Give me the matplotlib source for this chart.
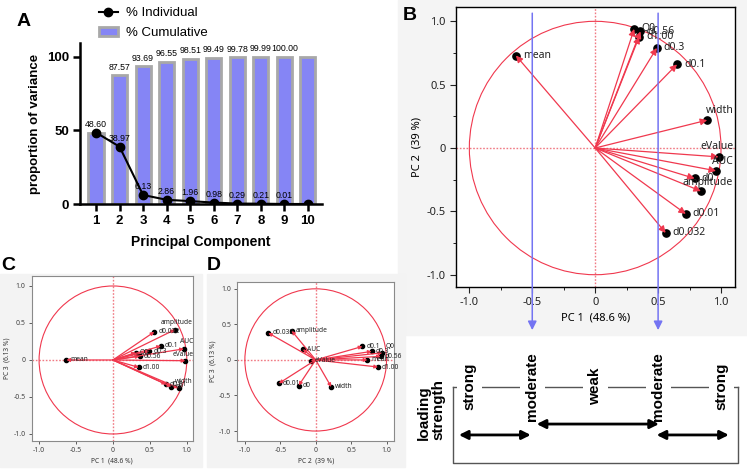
import numpy as np
import matplotlib
matplotlib.use('Agg')
import matplotlib.pyplot as plt
from matplotlib.patches import Rectangle, Circle, Patch
from matplotlib.lines import Line2D
from matplotlib.ticker import MultipleLocator

# panel A: scree data
components = np.arange(1, 11)
individual = [48.60, 38.97, 6.13, 2.86, 1.96, 0.98, 0.29, 0.21, 0.01, 0.00]
cumulative = [48.60, 87.57, 93.69, 96.55, 98.51, 99.49, 99.78, 99.99, 100.00, 100.00]

# panels B-D: loadings
variables = ['mean', 'Q0', 'd0.56', 'd1.00', 'd0.3', 'd0.1', 'width',
             'eValue', 'AUC', 'd0', 'amplitude', 'd0.01', 'd0.032']
pc1 = [-0.63, 0.31, 0.36, 0.35, 0.49, 0.65, 0.89, 0.98, 0.96, 0.79, 0.84, 0.72, 0.56]
pc2 = [0.73, 0.94, 0.92, 0.88, 0.79, 0.66, 0.22, -0.07, -0.18, -0.24, -0.34, -0.52, -0.67]
pc3 = [0.00, 0.10, 0.05, -0.10, 0.12, 0.19, -0.38, -0.01, 0.15, -0.36, 0.41, -0.33, 0.38]

strength_labels = ['strong', 'moderate', 'weak', 'moderate', 'strong']
strength_pos = [-1.0, -0.5, 0.0, 0.5, 1.0]

W, H = 747, 469
fig = plt.figure(figsize=(W / 100, H / 100), dpi=100)
fig.patch.set_facecolor('white')


def px(x0, y0, x1, y1):
    return [x0 / W, 1 - y1 / H, (x1 - x0) / W, (y1 - y0) / H]


def bg(x0, y0, x1, y1, color):
    r = Rectangle((x0 / W, 1 - y1 / H), (x1 - x0) / W, (y1 - y0) / H,
                  transform=fig.transFigure, color=color, zorder=-10)
    fig.patches.append(r)


bg(398, 0, 747, 335, '#f4f4f4')
bg(0, 274, 202, 467, '#f3f3f3')
bg(207, 274, 405, 467, '#f3f3f3')

arial = 'Liberation Sans'
segoe = 'Noto Sans'

# ---------------- panel A ----------------
axA = fig.add_axes(px(80, 43, 322, 204))
axA.bar(components, cumulative, width=0.64, color='#8585f5', edgecolor='#a8a8a8',
        linewidth=2, zorder=2)
axA.plot(components, individual, color='black', lw=1.5, marker='o', ms=6, zorder=3)
for i in range(1, 9):
    axA.text(components[i], cumulative[i] + 2.5, f'{cumulative[i]:.2f}', ha='center',
             va='bottom', fontsize=6.3, family=arial, zorder=4)
for i in range(0, 9):
    axA.text(components[i], individual[i] + 2.5, f'{individual[i]:.2f}', ha='center',
             va='bottom', fontsize=6.3, family=arial, zorder=4)
axA.set_xlim(0.32, 10.6)
axA.set_ylim(0, 109.5)
axA.set_yticks([0, 50, 100])
axA.set_xticks(components)
for s in ['top', 'right']:
    axA.spines[s].set_visible(False)
for s in ['left', 'bottom']:
    axA.spines[s].set_linewidth(1.8)
axA.tick_params(direction='out', length=5, width=1.8, labelsize=9.5, pad=3)
for lab in axA.get_xticklabels() + axA.get_yticklabels():
    lab.set_fontweight('bold')
    lab.set_family(arial)
axA.set_xlabel('Principal Component', fontsize=10, fontweight='bold', family=arial, labelpad=6)
axA.set_ylabel('proportion of variance', fontsize=9.5, fontweight='bold', family=arial, labelpad=4)
handles = [Line2D([], [], color='black', lw=1.5, marker='o', ms=6),
           Patch(facecolor='#8585f5', edgecolor='#a8a8a8', linewidth=2)]
fig.legend(handles, ['% Individual', '% Cumulative'], loc='upper left',
           bbox_to_anchor=(90 / W, 1 + 2 / H), frameon=False, borderpad=0.2,
           prop={'family': arial, 'size': 9.5}, handlelength=1.4,
           handletextpad=0.6, labelspacing=0.55)
fig.text(24 / W, 1 - 22 / H, 'A', fontsize=14, fontweight='bold', family=arial,
         ha='center', va='center')

# ---------------- loading plots ----------------
red = '#f0384e'
pink = '#f07a84'


def loading_plot(ax, xs, ys, special, ms, fs, head, lw_frame, frame_color, dx_default):
    ax.add_patch(Circle((0, 0), 1, fill=False, ec=red, lw=0.8, zorder=1))
    ax.axhline(0, color=pink, ls=(0, (1.2, 1.2)), lw=1.0, zorder=0)
    ax.axvline(0, color=pink, ls=(0, (1.2, 1.2)), lw=1.0, zorder=0)
    for x, y, name in zip(xs, ys, variables):
        ax.plot(x, y, 'o', color='black', ms=ms, zorder=3)
        ax.annotate('', xy=(x, y), xytext=(0, 0),
                    arrowprops=dict(arrowstyle='-|>', color=red, lw=0.9,
                                    mutation_scale=head, shrinkA=0, shrinkB=0),
                    zorder=4)
        ha, dx, dy = special.get(name, ('left', dx_default, 0))
        ax.annotate(name, (x, y), xytext=(dx, dy), textcoords='offset pixels',
                    ha=ha, va='center', fontsize=fs, family=segoe, color='#222222', zorder=5)
    ticks = [-1.0, -0.5, 0, 0.5, 1.0]
    ticklabels = ['-1.0', '-0.5', '0', '0.5', '1.0']
    ax.set_xticks(ticks)
    ax.set_xticklabels(ticklabels)
    ax.set_yticks(ticks)
    ax.set_yticklabels(ticklabels)
    for s in ax.spines.values():
        s.set_linewidth(lw_frame)
        s.set_color(frame_color)


# panel B
axB = fig.add_axes(px(456, 7, 735, 287))
axB.set_xlim(-1.106, 1.111)
axB.set_ylim(-1.097, 1.113)
specialB = {'width': ('left', -1, 10), 'eValue': ('right', 15, 10),
            'AUC': ('right', 17, 9), 'amplitude': ('right', 32, 9)}
loading_plot(axB, pc1, pc2, specialB, ms=5.2, fs=7.5, head=10, lw_frame=1.0,
             frame_color='black', dx_default=7)
axB.xaxis.set_minor_locator(MultipleLocator(0.25))
axB.yaxis.set_minor_locator(MultipleLocator(0.25))
axB.tick_params(which='major', length=4, labelsize=8, colors='#222222')
axB.tick_params(which='minor', length=2.5)
for lab in axB.get_xticklabels() + axB.get_yticklabels():
    lab.set_family(segoe)
axB.set_xlabel('PC 1  (48.6 %)', fontsize=8, family=segoe, labelpad=3)
axB.set_ylabel('PC 2  (39 %)', fontsize=8, family=segoe, labelpad=3)
for xv in [-0.5, 0.5]:
    axB.annotate('', xy=(xv, -0.154), xycoords=axB.get_xaxis_transform(),
                 xytext=(xv, 0.978), textcoords=axB.get_xaxis_transform(),
                 arrowprops=dict(arrowstyle='-|>', color='#7474f2', lw=1.1,
                                 mutation_scale=13, shrinkA=0, shrinkB=0),
                 annotation_clip=False, zorder=6)
fig.text(410 / W, 1 - 16 / H, 'B', fontsize=14, fontweight='bold', family=arial,
         ha='center', va='center')

# panel C
axC = fig.add_axes(px(31.7, 276, 192.7, 441))
axC.set_xlim(-1.10, 1.08)
axC.set_ylim(-1.095, 1.135)
specialC = {'amplitude': ('right', 18, 7), 'AUC': ('right', 9, 7),
            'eValue': ('right', 8, 6), 'width': ('right', 14, 7)}
loading_plot(axC, pc1, pc3, specialC, ms=3.0, fs=4.8, head=5, lw_frame=0.8,
             frame_color='#8a8a8a', dx_default=4)
axC.tick_params(length=2.5, width=0.6, labelsize=5, colors='#444444', pad=2)
for lab in axC.get_xticklabels() + axC.get_yticklabels():
    lab.set_family(segoe)
axC.set_xlabel('PC 1  (48.6 %)', fontsize=4.8, family=segoe, labelpad=2, color='#333333')
axC.set_ylabel('PC 3  (6.13 %)', fontsize=4.8, family=segoe, labelpad=2, color='#333333')
fig.text(8 / W, 1 - 265 / H, 'C', fontsize=14, fontweight='bold', family=arial,
         ha='center', va='center')

# panel D
axD = fig.add_axes(px(237.3, 281.7, 394.3, 441))
axD.set_xlim(-1.107, 1.11)
axD.set_ylim(-1.14, 1.10)
specialD = {'Q0': ('left', 3, 6)}
loading_plot(axD, pc2, pc3, specialD, ms=3.0, fs=4.8, head=5, lw_frame=0.8,
             frame_color='#8a8a8a', dx_default=4)
axD.tick_params(length=2.5, width=0.6, labelsize=5, colors='#444444', pad=2)
for lab in axD.get_xticklabels() + axD.get_yticklabels():
    lab.set_family(segoe)
axD.set_xlabel('PC 2  (39 %)', fontsize=4.8, family=segoe, labelpad=2, color='#333333')
axD.set_ylabel('PC 3  (6.13 %)', fontsize=4.8, family=segoe, labelpad=2, color='#333333')
fig.text(214 / W, 1 - 265 / H, 'D', fontsize=14, fontweight='bold', family=arial,
         ha='center', va='center')

# ---------------- loading strength scale ----------------
axL = fig.add_axes(px(456, 336, 735, 469))
axL.set_xlim(axB.get_xlim())
axL.set_ylim(0, 1)
axL.axis('off')
top, bottom, xl, xr = 0.619, 0.045, -1.133, 1.133
axL.plot([xl, xr], [top, top], color='#555555', lw=1.0, clip_on=False, zorder=1)
axL.plot([xl, xl, xr, xr], [top, bottom, bottom, top], color='#555555', lw=1.0,
         clip_on=False, zorder=1)
for xv, lab in zip(strength_pos, strength_labels):
    axL.text(xv, top, lab, rotation=90, ha='center', va='center', fontsize=11,
             fontweight='bold', family=arial, zorder=3,
             bbox=dict(facecolor='white', edgecolor='none', pad=4))
arrow_spans = [(-1.083, -0.512, 0.256), (-0.465, 0.507, 0.338), (0.488, 1.062, 0.256)]
for x0, x1, yv in arrow_spans:
    axL.annotate('', xy=(x1, yv), xytext=(x0, yv),
                 arrowprops=dict(arrowstyle='<|-|>', color='black', lw=2,
                                 mutation_scale=13, shrinkA=0, shrinkB=0),
                 annotation_clip=False)
axL.text(-1.305, 0.218, 'loading\nstrength', rotation=90, ha='center', va='bottom',
         multialignment='left', fontsize=11, fontweight='bold', family=arial,
         linespacing=1.0)

fig.savefig('out.png', dpi=100)
